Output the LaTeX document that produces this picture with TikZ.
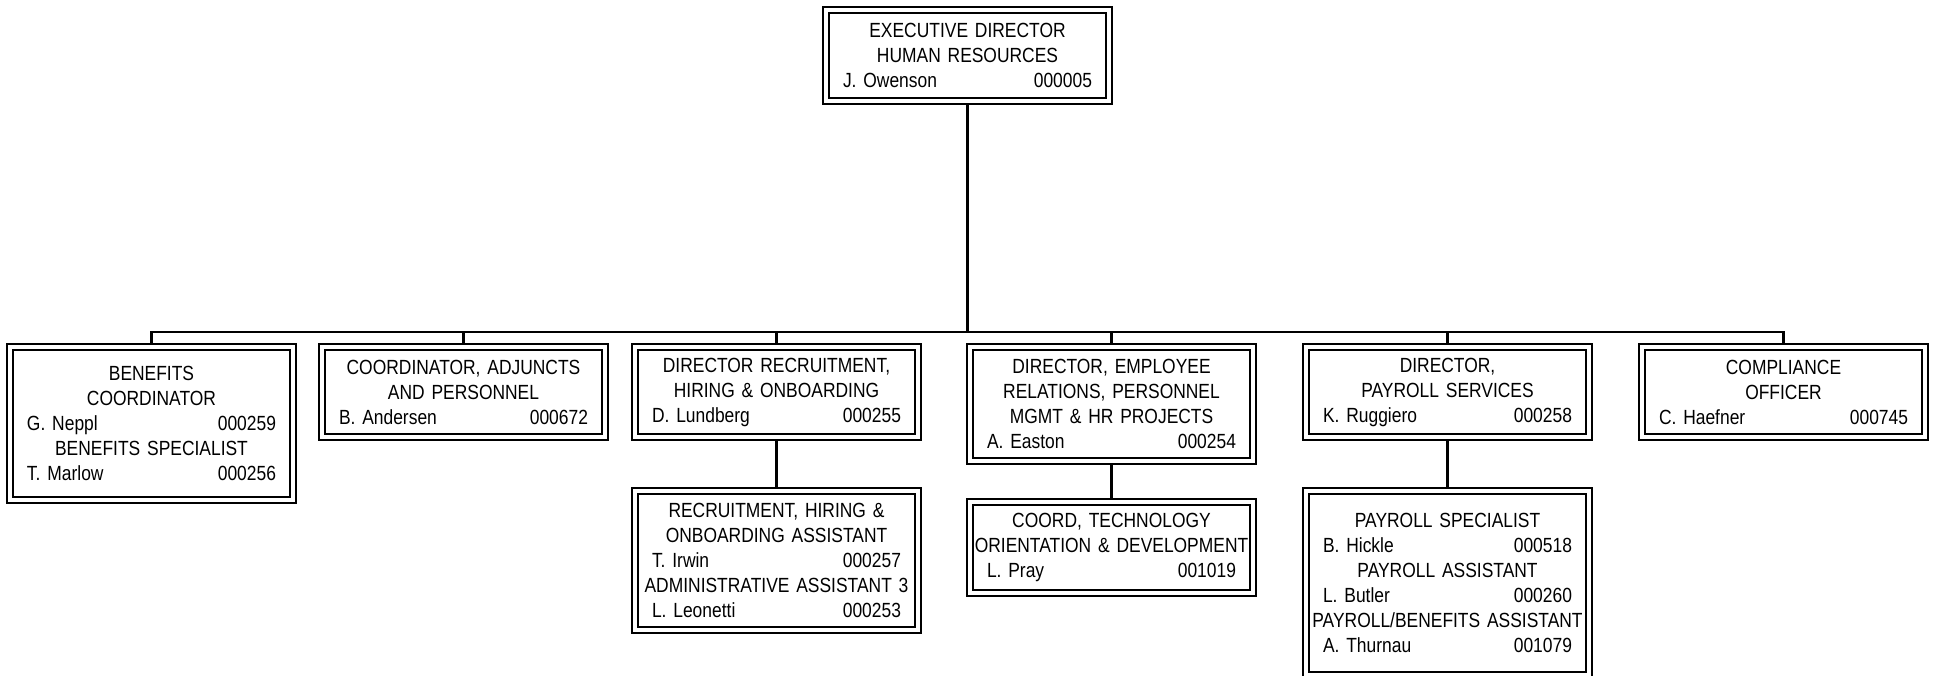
\documentclass[tikz,border=0pt]{standalone}
\usepackage{fontspec}
\setmainfont{Liberation Sans}[FakeStretch=0.85]
\newcommand{\ctrline}[1]{\makebox[\linewidth][c]{#1}}
\newcommand{\nameline}[2]{\makebox[\linewidth]{#1\hfill #2}}
\begin{document}
\begin{tikzpicture}[x=1pt,y=-1pt,
  orgbox/.style={draw, line width=2.4pt, rectangle, anchor=north west,
    outer sep=0pt, inner xsep=20pt, inner ysep=0pt, text width=249pt,
    minimum width=289pt, align=left,
    font=\fontsize{20.5}{25}\selectfont,
    path picture={\draw[line width=1.2pt]
      ([shift={(6pt,-6pt)}]path picture bounding box.north west) rectangle
      ([shift={(-6pt,6pt)}]path picture bounding box.south east);}},
  link/.style={line width=2.2pt}]
\useasboundingbox (0,0) rectangle (1933,676);

\node[orgbox, minimum height=97pt] (top) at (823,7)
  {\ctrline{EXECUTIVE DIRECTOR}\\ \ctrline{HUMAN RESOURCES}\\ \nameline{J. Owenson}{000005}};

\node[orgbox, minimum height=159pt] (b1) at (7,344)
  {\ctrline{BENEFITS}\\ \ctrline{COORDINATOR}\\ \nameline{G. Neppl}{000259}\\
   \ctrline{BENEFITS SPECIALIST}\\ \nameline{T. Marlow}{000256}};

\node[orgbox, minimum height=96pt] (b2) at (319,344)
  {\ctrline{COORDINATOR, ADJUNCTS}\\ \ctrline{AND PERSONNEL}\\ \nameline{B. Andersen}{000672}};

\node[orgbox, minimum height=96pt] (b3) at (632,344)
  {\ctrline{DIRECTOR RECRUITMENT,}\\ \ctrline{HIRING \& ONBOARDING}\\ \nameline{D. Lundberg}{000255}};

\node[orgbox, minimum height=120pt] (b4) at (967,344)
  {\ctrline{DIRECTOR, EMPLOYEE}\\ \ctrline{RELATIONS, PERSONNEL}\\ \ctrline{MGMT \& HR PROJECTS}\\ \nameline{A. Easton}{000254}};

\node[orgbox, minimum height=96pt] (b5) at (1303,344)
  {\ctrline{DIRECTOR,}\\ \ctrline{PAYROLL SERVICES}\\ \nameline{K. Ruggiero}{000258}};

\node[orgbox, minimum height=96pt] (b6) at (1639,344)
  {\ctrline{COMPLIANCE}\\ \ctrline{OFFICER}\\ \nameline{C. Haefner}{000745}};

\node[orgbox, minimum height=145pt] (c3) at (632,488)
  {\ctrline{RECRUITMENT, HIRING \&}\\ \ctrline{ONBOARDING ASSISTANT}\\ \nameline{T. Irwin}{000257}\\
   \ctrline{ADMINISTRATIVE ASSISTANT 3}\\ \nameline{L. Leonetti}{000253}};

\node[orgbox, minimum height=97pt] (c4) at (967,499)
  {\ctrline{COORD, TECHNOLOGY}\\ \ctrline{ORIENTATION \& DEVELOPMENT}\\ \nameline{L. Pray}{001019}};

\node[orgbox, minimum height=190pt] (c5) at (1303,488)
  {\ctrline{PAYROLL SPECIALIST}\\ \nameline{B. Hickle}{000518}\\ \ctrline{PAYROLL ASSISTANT}\\
   \nameline{L. Butler}{000260}\\ \ctrline{PAYROLL/BENEFITS ASSISTANT}\\ \nameline{A. Thurnau}{001079}};

\coordinate (bus) at (0,332);
\draw[link] (top.south) -- (top.south |- bus);
\draw[link] (b1.north) |- (bus -| b6.north) -- (b6.north);
\foreach \n in {b2,b3,b4,b5} \draw[link] (\n.north) -- (\n.north |- bus);
\draw[link] (b3.south) -- (c3.north);
\draw[link] (b4.south) -- (c4.north);
\draw[link] (b5.south) -- (c5.north);
\end{tikzpicture}
\end{document}
